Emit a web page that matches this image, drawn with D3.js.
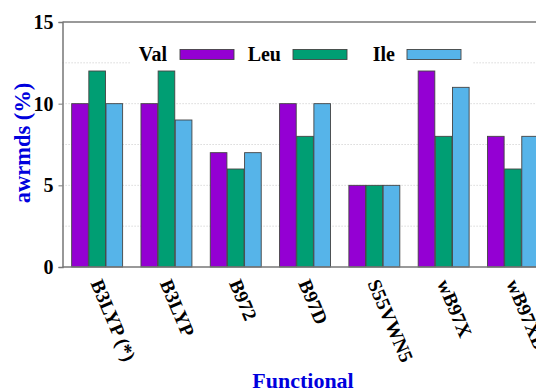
<!DOCTYPE html>
<html><head><meta charset="utf-8">
<script src="https://cdnjs.cloudflare.com/ajax/libs/d3/7.8.5/d3.min.js"></script>
<style>body{margin:0;background:#fff}svg{display:block}</style>
</head><body><svg id="c" width="536" height="392"></svg>
<script>
const categories = ["B3LYP (*)", "B3LYP", "B972", "B97D", "S55VWN5", "wB97X", "wB97XD"];
const seriesNames = ["Val", "Leu", "Ile"];
const valValues = [10, 10, 7, 10, 5, 12, 8];
const leuValues = [12, 12, 6, 8, 5, 8, 6];
const ileValues = [10, 9, 7, 10, 5, 11, 8];
const colors = ["#9400D3", "#009E73", "#56B4E9"];
const yTicks = [0, 5, 10, 15];
const yGrid = [2.5, 5, 7.5, 10, 12.5];

(function(){
const series = [valValues, leuValues, ileValues];
const svg = d3.select("#c");
const font = "'Liberation Serif','Times New Roman',serif";
const mLeft = 62.5, mTop = 22, mBottom = 267;
const slot = 69.3;
const plotRight = mLeft + slot * categories.length;

const x0 = d3.scaleBand().domain(categories).range([mLeft, plotRight]).paddingInner(0).paddingOuter(0);
const x1 = d3.scaleBand().domain(seriesNames).range([slot * 0.125, slot * 0.875]).padding(0.03);
const y = d3.scaleLinear().domain([0, 15]).range([mBottom, mTop]);

svg.append("g").selectAll("line").data(yGrid).join("line")
  .attr("x1", mLeft).attr("x2", plotRight)
  .attr("y1", d => y(d)).attr("y2", d => y(d))
  .attr("stroke", "#c4c4c4").attr("stroke-width", 0.8).attr("stroke-dasharray", "1.2,1.8");

svg.append("rect").attr("x", 131).attr("y", 38).attr("width", 341).attr("height", 27).attr("fill", "#fff");

const data = [];
categories.forEach((c, i) => series.forEach((s, j) => data.push({c, k: seriesNames[j], v: s[i], j})));
svg.append("g").selectAll("rect").data(data).join("rect")
  .attr("x", d => x0(d.c) + x1(d.k))
  .attr("width", x1.bandwidth())
  .attr("y", d => y(d.v))
  .attr("height", d => y(0) - y(d.v))
  .attr("fill", d => colors[d.j])
  .attr("stroke", "#444").attr("stroke-width", 0.9);

svg.append("line").attr("x1", mLeft).attr("x2", 540).attr("y1", mTop).attr("y2", mTop).attr("stroke", "#777").attr("stroke-width", 1.5);
svg.append("line").attr("x1", mLeft).attr("x2", 540).attr("y1", mBottom).attr("y2", mBottom).attr("stroke", "#777").attr("stroke-width", 1.5);

const yAxis = d3.axisLeft(y).tickValues(yTicks).tickSize(4).tickPadding(5).tickFormat(d3.format("d"));
const ya = svg.append("g").attr("transform", `translate(${mLeft},0)`).call(yAxis);
ya.select(".domain").attr("stroke", "#777").attr("stroke-width", 1.5);
ya.selectAll(".tick line").attr("stroke", "#777");
ya.selectAll("text").attr("font-family", font).attr("font-weight", "bold").attr("font-size", 20).attr("fill", "#000");

svg.append("g").selectAll("text").data(categories).join("text")
  .attr("transform", d => `translate(${x0(d) + slot / 2 - 7},${283}) rotate(67)`)
  .attr("font-family", font).attr("font-weight", "bold").attr("font-size", 19.5)
  .attr("text-anchor", "start").attr("fill", "#000")
  .text(d => d);

const legX = [167, 281, 395];
const boxX = [180, 293, 407];
seriesNames.forEach((n, j) => {
  svg.append("text").attr("x", legX[j]).attr("y", 61).attr("text-anchor", "end")
    .attr("font-family", font).attr("font-weight", "bold").attr("font-size", 20).text(n);
  svg.append("rect").attr("x", boxX[j]).attr("y", 49.5).attr("width", 54).attr("height", 10)
    .attr("fill", colors[j]).attr("stroke", "#444").attr("stroke-width", 0.9);
});

svg.append("text").attr("transform", `translate(30,143) rotate(-90)`).attr("text-anchor", "middle")
  .attr("font-family", font).attr("font-weight", "bold").attr("font-size", 22.5).attr("fill", "#0000dd")
  .text("awrmds (%)");
svg.append("text").attr("x", 303).attr("y", 388).attr("text-anchor", "middle")
  .attr("font-family", font).attr("font-weight", "bold").attr("font-size", 22).attr("fill", "#0000dd")
  .text("Functional");
})();
</script></body></html>
